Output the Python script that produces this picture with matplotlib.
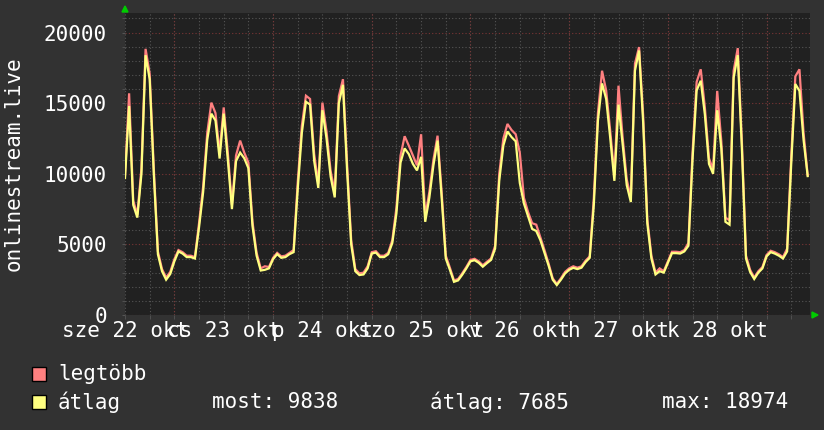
import numpy as np
import matplotlib
matplotlib.use("Agg")
import matplotlib.pyplot as plt
from matplotlib.ticker import MultipleLocator, FixedLocator
from matplotlib.patches import Rectangle, Polygon

# ---------------- data (hourly samples, starting at plot left edge) ----------------
atlag = [9700, 14800, 7800, 6900, 10000, 18400, 16700, 10000, 4300, 3100,
         2500, 2900, 3800, 4500, 4350, 4100, 4100, 4000, 6200, 8700,
         12400, 14260, 13770, 11080, 14260, 11000, 7500, 10900, 11500, 11100,
         10400, 6300, 4200, 3150, 3200, 3300, 3950, 4310, 4050, 4100,
         4310, 4450, 8900, 12900, 15100, 14900, 10900, 9000, 14500, 12500,
         9800, 8330, 15000, 16300, 10240, 5000, 3100, 2830, 2870, 3300,
         4350, 4420, 4100, 4100, 4300, 5100, 7200, 10800, 11800, 11400,
         10700, 10240, 11200, 6600, 8300, 10600, 12350, 8300, 4000, 3200,
         2350, 2450, 2850, 3300, 3800, 3880, 3700, 3420, 3670, 3900,
         4700, 9500, 12000, 13000, 12600, 12300, 9350, 7900, 7000, 6100,
         5950, 5300, 4400, 3500, 2500, 2120, 2500, 2940, 3200, 3340,
         3250, 3350, 3750, 4050, 7800, 13770, 16400, 15300, 12500, 9500,
         14900, 12100, 9200, 8000, 17300, 18730, 13600, 6500, 4000, 2870,
         3100, 3000, 3700, 4380, 4380, 4350, 4500, 4900, 11000, 15900,
         16590, 14200, 10700, 10000, 14500, 11800, 6600, 6400, 16800, 18400,
         11800, 4000, 3050, 2550, 3000, 3300, 4150, 4450, 4350, 4200,
         4000, 4500, 10700, 16360, 15870, 12400, 9838]

legtobb = [9900, 15700, 8100, 7100, 10400, 18850, 17100, 10400, 4500, 3250,
           2650, 3050, 3950, 4600, 4450, 4200, 4200, 4100, 6500, 9100,
           12900, 15040, 14300, 11500, 14700, 11500, 7800, 11300, 12350, 11500,
           10800, 6600, 4400, 3300, 3450, 3400, 4050, 4400, 4150, 4200,
           4400, 4600, 9400, 13400, 15530, 15300, 11400, 9300, 15040, 13000,
           10200, 8700, 15500, 16700, 10700, 5300, 3250, 2950, 3000, 3450,
           4450, 4520, 4200, 4200, 4400, 5300, 7600, 11300, 12660, 12000,
           11300, 10600, 12800, 7000, 8700, 11000, 12700, 8700, 4200, 3350,
           2450, 2550, 2950, 3400, 3900, 3980, 3800, 3520, 3770, 4000,
           4900, 10000, 12500, 13530, 13100, 12800, 11500, 8300, 7300, 6500,
           6400, 5500, 4600, 3650, 2600, 2200, 2600, 3050, 3300, 3450,
           3350, 3450, 3850, 4150, 8300, 14300, 17300, 15900, 13000, 9900,
           16240, 12600, 9600, 8300, 17800, 18974, 14100, 6800, 4200, 3000,
           3300, 3100, 3800, 4480, 4480, 4450, 4600, 5100, 11500, 16500,
           17400, 14700, 11100, 10300, 15870, 12300, 6900, 6700, 17300, 18900,
           12300, 4200, 3200, 2650, 3100, 3400, 4250, 4550, 4450, 4300,
           4100, 4700, 11200, 16900, 17400, 12900, 9900]

day_labels = ["sze 22 okt", "cs 23 okt", "p 24 okt", "szo 25 okt",
              "v 26 okt", "h 27 okt", "k 28 okt"]
y_ticks = [0, 5000, 10000, 15000, 20000]
series_names = ["legtöbb", "átlag"]
stat_labels = ["most: 9838", "átlag: 7685", "max: 18974"]

hours = np.arange(len(atlag))

# ---------------- styling ----------------
W, H = 824, 430
BG = "#323232"
PLOT_BG = "#212121"
MINOR_GRID = "#555555"
MAJOR_GRID = "#7a3535"
RED = "#ff8080"
YELLOW = "#ffff80"
TXT = "#ffffff"
FONT = "DejaVu Sans Mono"
FS = 15

fig = plt.figure(figsize=(W / 100, H / 100), dpi=100, facecolor=BG)

def fx(x):
    return x / W

def fy(y):
    return 1 - y / H

L, R, T, B = 125, 810, 13, 315
ax = fig.add_axes([fx(L), fy(B), (R - L) / W, (B - T) / H], facecolor=PLOT_BG)

ax.plot(hours, legtobb, color=RED, lw=1.6, zorder=3, solid_joinstyle="miter")
ax.plot(hours, atlag, color=YELLOW, lw=1.6, zorder=4, solid_joinstyle="miter")

ax.set_xlim(0, (R - L) / 4.1125)
ax.set_ylim(0, (B - T) * 5000 / 70.6)

# y grid
ax.yaxis.set_major_locator(FixedLocator(y_ticks))
ax.yaxis.set_minor_locator(MultipleLocator(1000))
ax.set_yticklabels([str(v) for v in y_ticks], fontfamily=FONT, fontsize=FS, color=TXT)
ax.tick_params(axis="y", which="both", length=2, color=MINOR_GRID, pad=11)
ax.grid(axis="y", which="minor", color=MINOR_GRID, lw=0.8, ls=(0, (1, 2)))
ax.grid(axis="y", which="major", color=MAJOR_GRID, lw=0.8, ls=(0, (1, 2)))

# x grid: 6 hour minor, red day lines
ax.xaxis.set_minor_locator(MultipleLocator(6))
ax.xaxis.set_major_locator(FixedLocator([]))
ax.tick_params(axis="x", which="minor", length=3, color=MINOR_GRID)
ax.grid(axis="x", which="minor", color=MINOR_GRID, lw=0.8, ls=(0, (1, 2)))
for d in range(12, len(atlag), 24):
    ax.axvline(d, color=MAJOR_GRID, lw=0.8, ls=(0, (1, 2)), zorder=1.5)
ax.set_axisbelow(True)

for k, lab in enumerate(day_labels):
    ax.annotate(lab, xy=(24 * k, 1 - 331 / H), xycoords=("data", "figure fraction"),
                ha="center", va="center", fontfamily=FONT, fontsize=FS, color=TXT,
                annotation_clip=False)

for s in ax.spines.values():
    s.set_visible(False)

# axis arrows
fig.patches.append(Polygon([[fx(122), fy(12)], [fx(128), fy(12)], [fx(125), fy(6)]],
                           closed=True, color="#00cc00", transform=fig.transFigure))
fig.patches.append(Polygon([[fx(812), fy(312)], [fx(812), fy(318)], [fx(818), fy(315)]],
                           closed=True, color="#00cc00", transform=fig.transFigure))

# y axis title
fig.text(fx(14), fy(164), "onlinestream.live", rotation=90, ha="center", va="center",
         fontfamily=FONT, fontsize=FS, color=TXT)

# legend
for i, (name, col) in enumerate(zip(series_names, [RED, YELLOW])):
    yc = 374 + 28 * i
    fig.patches.append(Rectangle((fx(32), fy(yc + 7)), 14 / W, 14 / H, facecolor=col,
                                 edgecolor="black", lw=1, transform=fig.transFigure))
    fig.text(fx(58), fy(yc), name, ha="left", va="center", fontfamily=FONT,
             fontsize=FS, color=TXT)

for xs, s in zip([212, 430, 662], stat_labels):
    fig.text(fx(xs), fy(402), s, ha="left", va="center", fontfamily=FONT,
             fontsize=FS, color=TXT)

fig.savefig("out.png", dpi=100, facecolor=BG)
